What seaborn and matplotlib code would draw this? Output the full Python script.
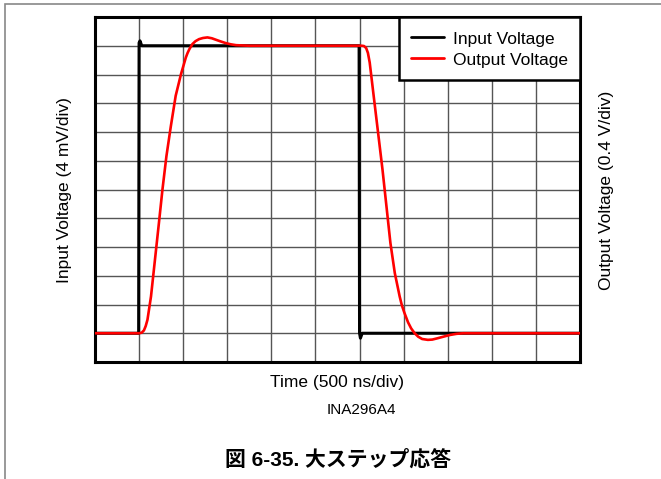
import matplotlib.pyplot as plt
import matplotlib.patches as mpatches
import seaborn as sns
import pandas as pd

# Values read off the scope capture, in screen divisions
# (x: 500 ns/div, input: 4 mV/div, output: 0.4 V/div)
in_t = [0.0, 0.99, 1.0, 1.02, 1.06, 3.0, 5.99, 6.0, 6.02, 6.06, 11.0]
in_v = [1.0, 1.0, 11.1, 11.17, 11.0, 11.0, 11.0, 1.0, 0.83, 1.0, 1.0]

out_t = [0.0, 1.0, 1.06, 1.11, 1.15, 1.19, 1.27, 1.36, 1.45, 1.53, 1.62,
         1.72, 1.83, 1.95, 2.06, 2.1, 2.14, 2.21, 2.28, 2.36, 2.45, 2.55,
         2.65, 2.74, 2.85, 2.97, 3.08, 3.2, 3.35, 3.5,
         6.05, 6.1, 6.15, 6.19, 6.23, 6.32, 6.42, 6.52, 6.61, 6.70, 6.80,
         6.91, 6.96, 7.02, 7.1, 7.17, 7.25, 7.33, 7.42, 7.55, 7.65, 7.78,
         7.9, 8.05, 8.2, 8.35, 11.0]
out_v = [1.0, 1.0, 1.02, 1.1, 1.25, 1.47, 2.28, 3.56, 4.84, 6.0, 7.16,
         8.2, 9.26, 10.01, 10.59, 10.75, 10.88, 11.06, 11.16, 11.23, 11.27,
         11.29, 11.26, 11.21, 11.15, 11.09, 11.05, 11.02, 11.01, 11.0,
         11.0, 10.99, 10.92, 10.75, 10.42, 9.26, 7.98, 6.7, 5.42, 4.14, 3.09,
         2.28, 1.97, 1.70, 1.38, 1.17, 1.0, 0.88, 0.8, 0.77, 0.78, 0.83,
         0.88, 0.94, 0.98, 1.0, 1.0]

n_xdiv = 11
n_ydiv = 12

df_in = pd.DataFrame({'t': in_t, 'v': in_v})
df_out = pd.DataFrame({'t': out_t, 'v': out_v})

sns.set_style('white')
plt.rcParams['font.family'] = ['Liberation Sans', 'Noto Sans CJK JP']
plt.rcParams['text.color'] = 'black'

fig = plt.figure(figsize=(6.61, 4.79), dpi=100)
ax = fig.add_axes([95 / 661, 1 - 362 / 479, 485 / 661, 345 / 479])

sns.lineplot(data=df_in, x='t', y='v', ax=ax, color='black', lw=2.2,
             sort=False, estimator=None, label='Input Voltage', zorder=3,
             solid_joinstyle='round')
sns.lineplot(data=df_out, x='t', y='v', ax=ax, color='#ff0000', lw=1.9,
             sort=False, estimator=None, label='Output Voltage', zorder=4,
             solid_joinstyle='round', solid_capstyle='round')

ax.set_xlim(0, n_xdiv)
ax.set_ylim(0, n_ydiv)
ax.set_xticks(range(n_xdiv + 1))
ax.set_yticks(range(n_ydiv + 1))
ax.set_xticklabels([])
ax.set_yticklabels([])
ax.tick_params(length=0)
ax.grid(True, color='#555555', lw=1.0)
ax.set_xlabel('')
ax.set_ylabel('')
for sp in ax.spines.values():
    sp.set_visible(True)
    sp.set_color('black')
    sp.set_linewidth(2.2)

leg = ax.legend(loc='upper right', borderaxespad=0, fancybox=False,
                edgecolor='black', framealpha=1, fontsize=12.5,
                handlelength=1.9, handleheight=1.2, handletextpad=0.5,
                borderpad=0.7, labelspacing=0.2)
leg.get_frame().set_linewidth(1.8)
for h in leg.get_lines():
    h.set_linewidth(2)
for t in leg.get_texts():
    t.set_color('black')

fig.text(65 / 661, 1 - 190 / 479, 'Input Voltage (4 mV/div)', rotation=90,
         ha='center', va='center', fontsize=12.5)
fig.text(607 / 661, 1 - 190 / 479, 'Output Voltage (0.4 V/div)', rotation=90,
         ha='center', va='center', fontsize=12.5)
fig.text(337 / 661, 1 - 383 / 479, 'Time (500 ns/div)', ha='center',
         va='center', fontsize=12.5)
fig.text(361 / 661, 1 - 410 / 479, 'INA296A4', ha='center', va='center',
         fontsize=11)
fig.text(338 / 661, 1 - 459 / 479, '図 6-35. 大ステップ応答', ha='center',
         va='center', fontsize=15, fontweight='bold')

# thin grey page border (left and top)
fig.add_artist(mpatches.Rectangle((5 / 661, -0.1), 1.0, 1.1 - 4 / 479,
                                  transform=fig.transFigure, fill=False,
                                  edgecolor='#888888', lw=1.2, clip_on=False))

fig.savefig('out.png', dpi=100)
